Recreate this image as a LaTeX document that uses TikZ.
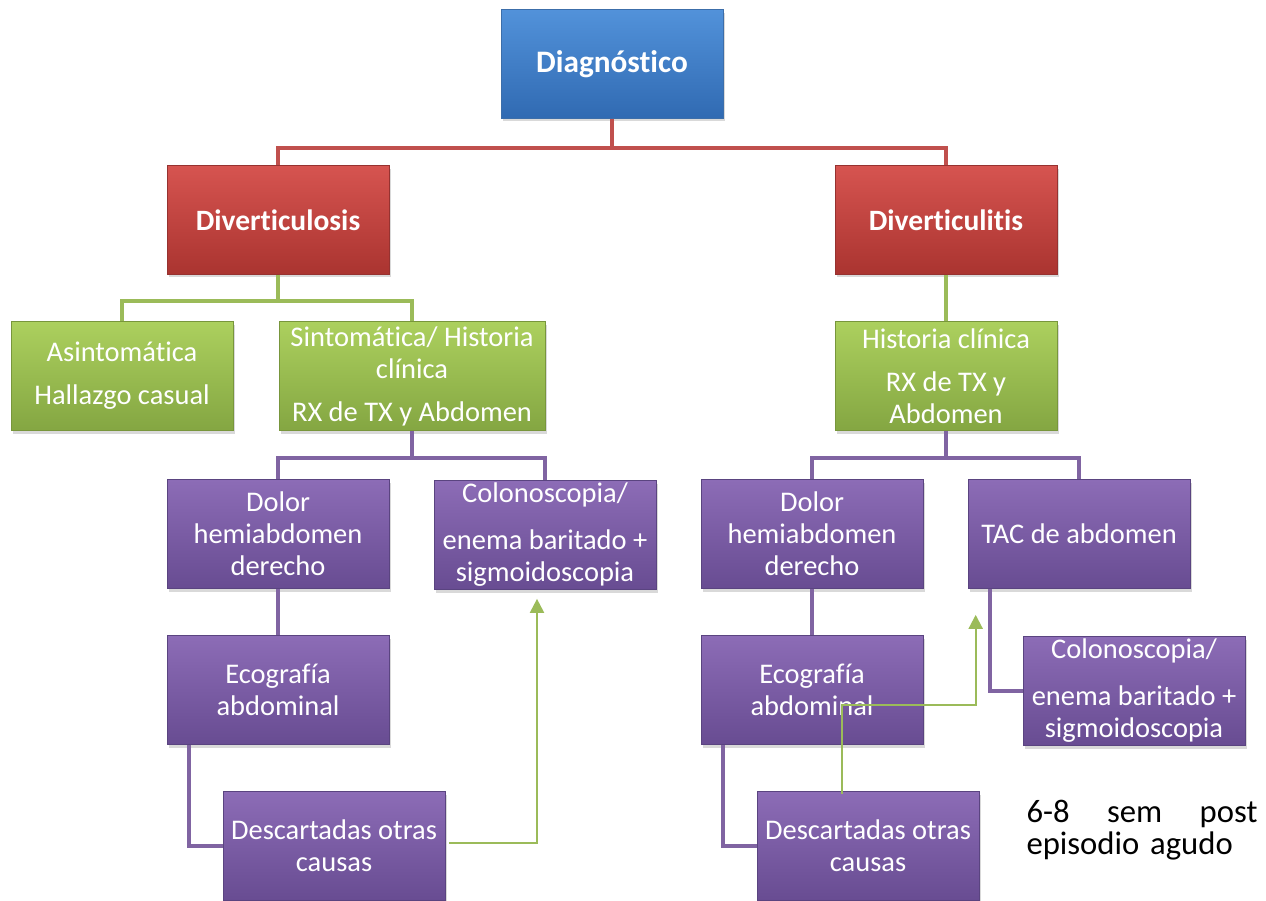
\documentclass[tikz,border=0pt]{standalone}
\usepackage{fontspec}
\setmainfont{Carlito}[Ligatures=NoCommon]
\usepackage{tikz}
\usetikzlibrary{arrows.meta,positioning,calc,shadows}
\definecolor{lred}{HTML}{C0504D}
\definecolor{lgrn}{HTML}{9BBB59}
\definecolor{lpur}{HTML}{8064A2}
\definecolor{bluT}{RGB}{82,146,218}
\definecolor{bluB}{RGB}{48,106,178}
\definecolor{bluD}{RGB}{60,110,170}
\definecolor{redT}{RGB}{214,84,80}
\definecolor{redB}{RGB}{170,52,48}
\definecolor{redD}{RGB}{150,50,48}
\definecolor{grnT}{RGB}{172,208,94}
\definecolor{grnB}{RGB}{132,166,66}
\definecolor{grnD}{RGB}{120,150,60}
\definecolor{purT}{RGB}{140,108,182}
\definecolor{purB}{RGB}{104,76,146}
\definecolor{purD}{RGB}{90,68,128}
\tikzset{
  box/.style={rectangle,minimum width=4.44cm,minimum height=2.18cm,inner sep=1pt,align=center,
    text=white,font=\fontsize{16.2}{18.2}\selectfont,
    drop shadow={opacity=0.3,shadow xshift=0.04cm,shadow yshift=-0.06cm}},
  cb/.style={top color=bluT,bottom color=bluB,draw=bluD},
  cr/.style={top color=redT,bottom color=redB,draw=redD},
  cg/.style={top color=grnT,bottom color=grnB,draw=grnD},
  cp/.style={top color=purT,bottom color=purB,draw=purD},
  ttl/.style={font=\fontsize{16.8}{18.2}\selectfont\bfseries},
  lr/.style={draw=lred,line width=2.3pt},
  lg/.style={draw=lgrn,line width=2.3pt},
  lp/.style={draw=lpur,line width=2.3pt},
  ga/.style={draw=lgrn,line width=1.2pt,-{Triangle[length=0.28cm,width=0.28cm]}},
}
\begin{document}
\begin{tikzpicture}[x=0.02cm,y=-0.02cm]
  \useasboundingbox (0,0) rectangle (1266,900);
  \node[box,cb,ttl,font=\fontsize{17.8}{18.2}\selectfont\bfseries] (diag) at (612,64) {Diagnóstico};
  \node[box,cr,ttl] (dlosis) at (278,220) {Diverticulosis};
  \node[box,cr,ttl] (dlitis) at (946,220) {Diverticulitis};
  \node[box,cg] (asin) at (122,376) {Asintomática\\[0.22cm]Hallazgo casual};
  \node[box,cg,minimum width=5.32cm] (sint) at (412,376) {Sintomática/ Historia\\clínica\\[0.22cm]RX de TX y Abdomen};
  \node[box,cg] (hist) at (946,376) {Historia clínica\\[0.22cm]RX de TX y\\Abdomen};
  \node[box,cp] (dolL) at (278,534) {Dolor\\hemiabdomen\\derecho};
  \node[box,cp] (colL) at (545,535) {Colonoscopia/\\[0.3cm]enema baritado +\\sigmoidoscopia};
  \node[box,cp] (ecoL) at (278,690) {Ecografía\\abdominal};
  \node[box,cp] (desL) at (334,846) {Descartadas otras\\causas};
  \node[box,cp] (dolR) at (812,534) {Dolor\\hemiabdomen\\derecho};
  \node[box,cp] (tac) at (1079,534) {TAC de abdomen};
  \node[box,cp] (ecoR) at (812,690) {Ecografía\\abdominal};
  \node[box,cp] (colR) at (1134,691) {Colonoscopia/\\[0.3cm]enema baritado +\\sigmoidoscopia};
  \node[box,cp] (desR) at (868,846) {Descartadas otras\\causas};
  \node[text width=4.62cm,align=left,font=\fontsize{18.6}{17.8}\selectfont,inner sep=0pt] (nota) at (1142,830)
    {6-8\hfill sem\hfill post\\episodio agudo};
  % connectors
  \draw[lr] (diag.south) -- ++(0,29) -| (dlosis.north);
  \draw[lr] (diag.south) -- ++(0,29) -| (dlitis.north);
  \draw[lg] (dlosis.south) -- ++(0,26) -| (asin.north);
  \draw[lg] (dlosis.south) -- ++(0,26) -| (sint.north);
  \draw[lg] (dlitis.south) -- (hist.north);
  \draw[lp] (sint.south) -- ++(0,27) -| (dolL.north);
  \draw[lp] (sint.south) -- ++(0,27) -| (colL.north);
  \draw[lp] (dolL.south) -- (ecoL.north);
  \draw[lp] ([xshift=0.44cm]ecoL.south west) |- (desL.west);
  \draw[lp] (hist.south) -- ++(0,27) -| (dolR.north);
  \draw[lp] (hist.south) -- ++(0,27) -| (tac.north);
  \draw[lp] (dolR.south) -- (ecoR.north);
  \draw[lp] ([xshift=0.44cm]ecoR.south west) |- (desR.west);
  \draw[lp] ([xshift=0.44cm]tac.south west) |- (colR.west);
  \draw[ga] ([xshift=0.08cm,yshift=0.06cm]desL.east) -| ([xshift=-0.16cm,yshift=-0.18cm]colL.south);
  \draw[ga] ([xshift=-0.52cm,yshift=-0.06cm]desR.north) -- ++(0,-89) -| ([xshift=0.16cm,yshift=-0.52cm]tac.south west);
\end{tikzpicture}
\end{document}
